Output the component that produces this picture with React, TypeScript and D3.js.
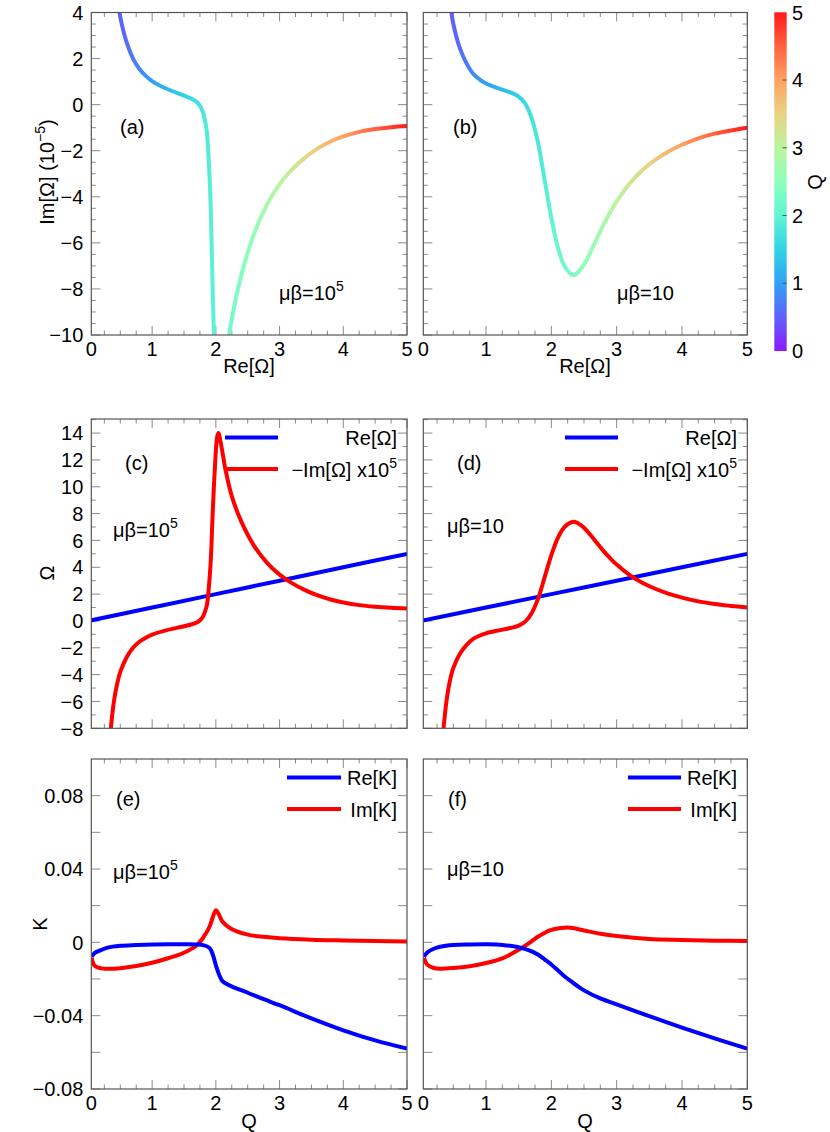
import React from "react";
import * as d3 from "d3";

// ---------------- data ----------------
// -Im[Ω]·1e5 versus Q, μβ = 1e5
const qOmega105 = [0.28, 0.32, 0.36, 0.4, 0.45, 0.5, 0.6, 0.7, 0.8, 0.9, 1.0, 1.2, 1.4, 1.6, 1.7, 1.75, 1.8, 1.83, 1.86, 1.89, 1.92, 1.95, 1.98, 2.02, 2.04, 2.08, 2.15, 2.25, 2.4, 2.6, 2.8, 3.0, 3.2, 3.4, 3.6, 3.8, 4.0, 4.25, 4.5, 4.75, 5.0];
const negImOmega105 = [-13, -9.8, -7.6, -6.0, -4.7, -3.8, -2.7, -2.0, -1.55, -1.25, -1.02, -0.72, -0.5, -0.28, -0.12, 0.05, 0.35, 0.7, 1.2, 2.5, 4.5, 8.0, 11.0, 13.7, 14.0, 13.2, 11.3, 9.3, 7.4, 5.6, 4.35, 3.45, 2.8, 2.3, 1.9, 1.6, 1.38, 1.18, 1.06, 0.98, 0.93];

// -Im[Ω]·1e5 versus Q, μβ = 10
const qOmega10 = [0.28, 0.32, 0.36, 0.4, 0.45, 0.5, 0.6, 0.7, 0.8, 0.9, 1.0, 1.2, 1.4, 1.5, 1.6, 1.7, 1.8, 1.9, 2.0, 2.1, 2.2, 2.3, 2.35, 2.4, 2.5, 2.6, 2.7, 2.8, 2.9, 3.0, 3.2, 3.4, 3.6, 3.8, 4.0, 4.25, 4.5, 4.75, 5.0];
const negImOmega10 = [-13, -9.8, -7.5, -5.8, -4.4, -3.5, -2.45, -1.8, -1.35, -1.1, -0.92, -0.7, -0.5, -0.35, -0.05, 0.6, 1.7, 3.3, 4.9, 6.2, 7.0, 7.35, 7.4, 7.3, 6.95, 6.4, 5.8, 5.2, 4.68, 4.2, 3.42, 2.83, 2.38, 2.02, 1.74, 1.46, 1.26, 1.12, 1.0];

// Re[Ω] versus Q (straight line, same for both μβ)
const reOmegaQ = [0, 1, 2, 3, 4, 5];
const reOmegaVal = [0, 1, 2, 3, 4, 5];

// K versus Q
const qK = [0.05, 0.1, 0.2, 0.3, 0.5, 0.75, 1.0, 1.25, 1.5, 1.7, 1.8, 1.9, 1.95, 2.0, 2.05, 2.1, 2.2, 2.3, 2.5, 2.75, 3.0, 3.5, 4.0, 4.5, 5.0];
const reK105 = [-0.0078, -0.0058, -0.0042, -0.0029, -0.0019, -0.0015, -0.0012, -0.0011, -0.0011, -0.0012, -0.0015, -0.003, -0.0065, -0.0125, -0.0175, -0.021, -0.0233, -0.0248, -0.0275, -0.031, -0.0343, -0.0415, -0.048, -0.0535, -0.058];
const imK105 = [-0.0085, -0.0128, -0.0142, -0.0144, -0.0141, -0.0129, -0.0111, -0.0087, -0.0057, -0.0016, 0.0025, 0.0085, 0.0135, 0.0175, 0.015, 0.0115, 0.0083, 0.0064, 0.0042, 0.003, 0.0022, 0.0014, 0.001, 0.0007, 0.0005];
const reK10 = [-0.0078, -0.0055, -0.0035, -0.0024, -0.0015, -0.0012, -0.0011, -0.0014, -0.0027, -0.0049, -0.0068, -0.0094, -0.0107, -0.0121, -0.0137, -0.0152, -0.0185, -0.0212, -0.0262, -0.0306, -0.0338, -0.0403, -0.0465, -0.0524, -0.058];
const imK10 = [-0.0085, -0.0122, -0.014, -0.0144, -0.014, -0.013, -0.0113, -0.0087, -0.0041, 0.0006, 0.0032, 0.0052, 0.0061, 0.0068, 0.0073, 0.0076, 0.008, 0.0079, 0.0065, 0.0047, 0.0034, 0.0018, 0.0013, 0.0009, 0.0007];

// ticks
const xTickValues = [0, 1, 2, 3, 4, 5];
const imOmegaTicks = [-10, -8, -6, -4, -2, 0, 2, 4];
const omegaTicks = [-8, -6, -4, -2, 0, 2, 4, 6, 8, 10, 12, 14];
const kTicks = [-0.08, -0.04, 0, 0.04, 0.08];
const kMinorTicks = [-0.06, -0.02, 0.02, 0.06];
const colorbarTicks = [0, 1, 2, 3, 4, 5];
// rainbow colormap for Q = 0 … 5 (step 0.5)
const rainbowStops = ["#8d1aff", "#5f61fc", "#31a1f4", "#31d3e6", "#5ff4d3", "#8dffbc", "#bbf4a1", "#e9d382", "#ffa161", "#ff613e", "#ff1a1a"];

// ---------------- layout ----------------
const W = 830;
const H = 1132;
const FONT = "'Liberation Sans', Arial, Helvetica, sans-serif";
const FS = 20;
const COLS = [
  { x0: 91.3, x1: 407, dom: [0.045, 5] as [number, number] },
  { x0: 423.3, x1: 747.3, dom: [0.04, 5] as [number, number] },
];
const ROWS = [
  { y0: 12.5, y1: 335 },
  { y0: 419, y1: 728.3 },
  { y0: 759, y1: 1089 },
];
const BLUE = "#0000ff";
const RED = "#ff0000";

const colorScale = d3
  .scaleLinear<string>()
  .domain(rainbowStops.map((_, i) => i * 0.5))
  .range(rainbowStops)
  .interpolate(d3.interpolateRgb);
const reOmega = d3.scaleLinear().domain(reOmegaQ).range(reOmegaVal);

type Scale = d3.ScaleLinear<number, number>;

type PanelProps = {
  id: string;
  col: number;
  row: number;
  yDomain: [number, number];
  yMajor: number[];
  yMinor: number[];
  yMinorLen: number;
  yFormat: (v: number) => string;
  showY: boolean;
  showX: boolean;
  render: (xs: Scale, ys: Scale) => React.ReactNode;
};

function Panel(p: PanelProps) {
  const c = COLS[p.col];
  const r = ROWS[p.row];
  const xs = d3.scaleLinear().domain(c.dom).range([c.x0, c.x1]);
  const ys = d3.scaleLinear().domain(p.yDomain).range([r.y1, r.y0]);
  const xMajor = xTickValues.filter((v) => v > c.dom[0]);
  const xMinor = d3.range(1, 20).filter((i) => i % 4 !== 0).map((i) => i * 0.25);
  const tickCol = "#8a8a8a";
  const LM = 9;
  const LN = 4.5;
  return (
    <g>
      <defs>
        <clipPath id={`clip-${p.id}`}>
          <rect x={c.x0} y={r.y0} width={c.x1 - c.x0} height={r.y1 - r.y0} />
        </clipPath>
      </defs>
      <g stroke={tickCol} strokeWidth={1}>
        {xMajor.map((v) => (
          <g key={`xM${v}`}>
            <line x1={xs(v)} x2={xs(v)} y1={r.y1} y2={r.y1 - LM} />
            <line x1={xs(v)} x2={xs(v)} y1={r.y0} y2={r.y0 + LM} />
          </g>
        ))}
        {xMinor.map((v) => (
          <g key={`xm${v}`}>
            <line x1={xs(v)} x2={xs(v)} y1={r.y1} y2={r.y1 - LN} />
            <line x1={xs(v)} x2={xs(v)} y1={r.y0} y2={r.y0 + LN} />
          </g>
        ))}
        {p.yMajor.map((v) => (
          <g key={`yM${v}`}>
            <line x1={c.x0} x2={c.x0 + LM} y1={ys(v)} y2={ys(v)} />
            <line x1={c.x1} x2={c.x1 - LM} y1={ys(v)} y2={ys(v)} />
          </g>
        ))}
        {p.yMinor.map((v) => (
          <g key={`ym${v}`}>
            <line x1={c.x0} x2={c.x0 + p.yMinorLen} y1={ys(v)} y2={ys(v)} />
            <line x1={c.x1} x2={c.x1 - p.yMinorLen} y1={ys(v)} y2={ys(v)} />
          </g>
        ))}
      </g>
      <g clipPath={`url(#clip-${p.id})`}>{p.render(xs, ys)}</g>
      <rect x={c.x0} y={r.y0} width={c.x1 - c.x0} height={r.y1 - r.y0} fill="none" stroke="#555" strokeWidth={1.2} />
      {p.showX &&
        xTickValues.map((v) => (
          <text key={`xl${v}`} x={Math.max(c.x0, xs(v))} y={r.y1 + 20.5} textAnchor="middle" fontSize={FS}>
            {v}
          </text>
        ))}
      {p.showY &&
        p.yMajor
          .filter((v) => ys(v) >= r.y0 - 0.5)
          .map((v) => (
            <text key={`yl${v}`} x={c.x0 - 8} y={ys(v) + 7.2} textAnchor="end" fontSize={FS}>
              {p.yFormat(v)}
            </text>
          ))}
    </g>
  );
}

const intFmt = d3.format("d");
const kFmt = (v: number) => (Math.abs(v) < 1e-9 ? "0" : d3.format(".2f")(v));

function lineGen(xs: Scale, ys: Scale) {
  return d3
    .line<[number, number]>()
    .x((d) => xs(d[0]))
    .y((d) => ys(d[1]))
    .curve(d3.curveCatmullRom.alpha(0.5));
}

function ColoredOmega({ id, xs, ys, q, negIm }: { id: string; xs: Scale; ys: Scale; q: number[]; negIm: number[] }) {
  const pts = q.map((qq, i) => [reOmega(qq), -negIm[i]] as [number, number]);
  const stops = d3.range(0, 11).map((k) => k * 0.5);
  return (
    <g>
      <defs>
        <linearGradient id={`grad-${id}`} gradientUnits="userSpaceOnUse" x1={xs(reOmega(0))} x2={xs(reOmega(5))} y1={0} y2={0}>
          {stops.map((s) => (
            <stop key={s} offset={s / 5} stopColor={colorScale(s)} />
          ))}
        </linearGradient>
      </defs>
      <path d={lineGen(xs, ys)(pts) || ""} fill="none" stroke={`url(#grad-${id})`} strokeWidth={4} />
    </g>
  );
}

function OmegaLines({ xs, ys, q, negIm }: { xs: Scale; ys: Scale; q: number[]; negIm: number[] }) {
  const blue = reOmegaQ.map((qq, i) => [qq, reOmegaVal[i]] as [number, number]);
  const red = q.map((qq, i) => [qq, negIm[i]] as [number, number]);
  return (
    <g fill="none" strokeWidth={4}>
      <path d={lineGen(xs, ys)(blue) || ""} stroke={BLUE} />
      <path d={lineGen(xs, ys)(red) || ""} stroke={RED} />
    </g>
  );
}

function KLines({ xs, ys, re, im }: { xs: Scale; ys: Scale; re: number[]; im: number[] }) {
  const reP = qK.map((q, i) => [q, re[i]] as [number, number]);
  const imP = qK.map((q, i) => [q, im[i]] as [number, number]);
  return (
    <g fill="none" strokeWidth={4}>
      <path d={lineGen(xs, ys)(imP) || ""} stroke={RED} />
      <path d={lineGen(xs, ys)(reP) || ""} stroke={BLUE} />
    </g>
  );
}

function Sup({ children }: { children: React.ReactNode }) {
  return (
    <tspan dy={-9} fontSize={14}>
      {children}
    </tspan>
  );
}

function Legend({ xl0, xl1, xt, ya, yb, la, lb }: { xl0: number; xl1: number; xt: number; ya: number; yb: number; la: React.ReactNode; lb: React.ReactNode }) {
  return (
    <g>
      <line x1={xl0} x2={xl1} y1={ya} y2={ya} stroke={BLUE} strokeWidth={4} />
      <line x1={xl0} x2={xl1} y1={yb} y2={yb} stroke={RED} strokeWidth={4} />
      <text x={xt} y={ya + 7.5} textAnchor="end" fontSize={FS}>
        {la}
      </text>
      <text x={xt} y={yb + 7.5} textAnchor="end" fontSize={FS}>
        {lb}
      </text>
    </g>
  );
}

export default function App() {
  const imMinor = d3.range(-20, 9).map((i) => i * 0.5).filter((v) => v % 2 !== 0);
  const omMinor = d3.range(-7, 16, 2);
  const cb = d3.scaleLinear().domain([0, 5]).range([351, 12.3]);
  const cbStops = d3.range(0, 11).map((k) => k * 0.5);
  return (
    <svg width={W} height={H} style={{ position: "absolute", left: 0, top: 0, background: "#fff" }} fontFamily={FONT} fill="#000">
      <rect x={0} y={0} width={W} height={H} fill="#fff" />
      {/* (a) */}
      <Panel
        id="a" col={0} row={0} yDomain={[-10, 4]} yMajor={imOmegaTicks} yMinor={imMinor} yMinorLen={4.5}
        yFormat={intFmt} showY showX
        render={(xs, ys) => <ColoredOmega id="a" xs={xs} ys={ys} q={qOmega105} negIm={negImOmega105} />}
      />
      {/* (b) */}
      <Panel
        id="b" col={1} row={0} yDomain={[-10, 4]} yMajor={imOmegaTicks} yMinor={imMinor} yMinorLen={4.5}
        yFormat={intFmt} showY={false} showX
        render={(xs, ys) => <ColoredOmega id="b" xs={xs} ys={ys} q={qOmega10} negIm={negImOmega10} />}
      />
      {/* (c) */}
      <Panel
        id="c" col={0} row={1} yDomain={[-8, 15.05]} yMajor={omegaTicks} yMinor={omMinor} yMinorLen={4.5}
        yFormat={intFmt} showY showX={false}
        render={(xs, ys) => <OmegaLines xs={xs} ys={ys} q={qOmega105} negIm={negImOmega105} />}
      />
      {/* (d) */}
      <Panel
        id="d" col={1} row={1} yDomain={[-8, 15.05]} yMajor={omegaTicks} yMinor={omMinor} yMinorLen={4.5}
        yFormat={intFmt} showY={false} showX={false}
        render={(xs, ys) => <OmegaLines xs={xs} ys={ys} q={qOmega10} negIm={negImOmega10} />}
      />
      {/* (e) */}
      <Panel
        id="e" col={0} row={2} yDomain={[-0.08, 0.1]} yMajor={kTicks} yMinor={kMinorTicks} yMinorLen={9}
        yFormat={kFmt} showY showX
        render={(xs, ys) => <KLines xs={xs} ys={ys} re={reK105} im={imK105} />}
      />
      {/* (f) */}
      <Panel
        id="f" col={1} row={2} yDomain={[-0.08, 0.1]} yMajor={kTicks} yMinor={kMinorTicks} yMinorLen={9}
        yFormat={kFmt} showY={false} showX
        render={(xs, ys) => <KLines xs={xs} ys={ys} re={reK10} im={imK10} />}
      />

      {/* legends */}
      <Legend xl0={225} xl1={278} xt={397} ya={437.5} yb={469} la="Re[Ω]" lb={<>−Im[Ω] x10<Sup>5</Sup></>} />
      <Legend xl0={565} xl1={618} xt={737} ya={437.5} yb={469} la="Re[Ω]" lb={<>−Im[Ω] x10<Sup>5</Sup></>} />
      <Legend xl0={287} xl1={341} xt={397} ya={777.5} yb={809} la="Re[K]" lb="Im[K]" />
      <Legend xl0={628} xl1={681} xt={737} ya={777.5} yb={809} la="Re[K]" lb="Im[K]" />

      {/* panel annotations */}
      <g fontSize={FS}>
        <text x={120} y={134}>(a)</text>
        <text x={279} y={300}>μβ=10<Sup>5</Sup></text>
        <text x={453} y={134}>(b)</text>
        <text x={617} y={300}>μβ=10</text>
        <text x={125} y={470}>(c)</text>
        <text x={113} y={537}>μβ=10<Sup>5</Sup></text>
        <text x={457} y={470}>(d)</text>
        <text x={447} y={533}>μβ=10</text>
        <text x={116} y={806}>(e)</text>
        <text x={113} y={879}>μβ=10<Sup>5</Sup></text>
        <text x={448} y={806}>(f)</text>
        <text x={447} y={876}>μβ=10</text>
      </g>

      {/* axis titles */}
      <g fontSize={FS}>
        <text x={249} y={373} textAnchor="middle">Re[Ω]</text>
        <text x={585} y={373} textAnchor="middle">Re[Ω]</text>
        <text x={249} y={1128} textAnchor="middle">Q</text>
        <text x={585} y={1128} textAnchor="middle">Q</text>
        <text transform="translate(54,172) rotate(-90)" textAnchor="middle">
          Im[Ω] (10<Sup>−5</Sup><tspan dy={9} fontSize={FS}>)</tspan>
        </text>
        <text transform="translate(53.5,573) rotate(-90)" textAnchor="middle">Ω</text>
        <text transform="translate(46.7,924) rotate(-90)" textAnchor="middle">K</text>
      </g>

      {/* colorbar */}
      <defs>
        <linearGradient id="cbgrad" x1={0} y1={1} x2={0} y2={0}>
          {cbStops.map((s) => (
            <stop key={s} offset={s / 5} stopColor={colorScale(s)} />
          ))}
        </linearGradient>
      </defs>
      <rect x={774.3} y={cb(5)} width={12.4} height={cb(0) - cb(5)} fill="url(#cbgrad)" />
      <g stroke="#555" strokeWidth={1}>
        {colorbarTicks.filter((v) => v > 0 && v < 5).map((v) => (
          <line key={v} x1={782.5} x2={786.7} y1={cb(v)} y2={cb(v)} />
        ))}
      </g>
      <g fontSize={FS}>
        {colorbarTicks.map((v) => (
          <text key={v} x={792} y={cb(v) + 7.2}>
            {v}
          </text>
        ))}
        <text transform="translate(822,182) rotate(-90)" textAnchor="middle">Q</text>
      </g>
    </svg>
  );
}
